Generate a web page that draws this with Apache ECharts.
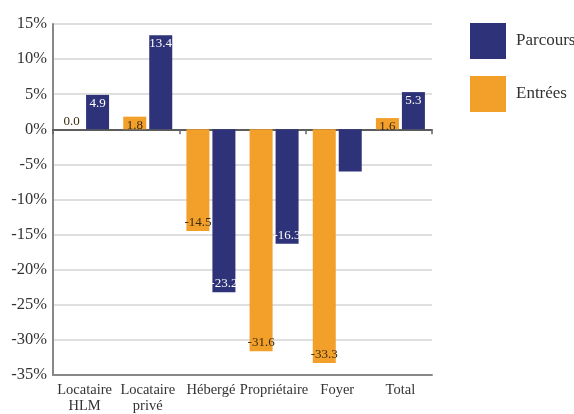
<!DOCTYPE html>
<html><head><meta charset="utf-8">
<script src="https://cdn.jsdelivr.net/npm/echarts@6/dist/echarts.min.js"></script>
<style>html,body{margin:0;padding:0;background:#fff}#c{width:574px;height:414px}</style>
</head><body><div id="c"></div>
<script>
const categories = ['Locataire\nHLM', 'Locataire\nprivé', 'Hébergé', 'Propriétaire', 'Foyer', 'Total'];
const entrees = [0.0, 1.8, -14.5, -31.6, -33.3, 1.6];
const parcours = [4.9, 13.4, -23.2, -16.3, -6.0, 5.3];
const hiddenParcoursLabels = [4]; // Foyer value label not shown in the reference
const yTicks = { min: -35, max: 15, interval: 5 };

const FONT = "'Liberation Serif', 'DejaVu Serif', serif";
const ORANGE = '#f2a02a', BLUE = '#2e3278';

function items(vals, color, hidden) {
  return vals.map((v, i) => ({
    value: v,
    label: {
      show: !(hidden || []).includes(i),
      position: v === 0 ? 'top' : (v > 0 ? 'insideTop' : 'insideBottom'),
      distance: v === 0 ? 1 : 2,
      color: color
    }
  }));
}

const chart = echarts.init(document.getElementById('c'), null, { renderer: 'canvas' });
chart.setOption({
  animation: false,
  textStyle: { fontFamily: FONT },
  grid: { left: 53, right: 142, top: 24, bottom: 38, containLabel: false },
  legend: {
    data: ['Parcours', 'Entrées'],
    orient: 'vertical', left: 470, top: 23, padding: 0,
    itemWidth: 36, itemHeight: 36, itemGap: 17, icon: 'rect',
    textStyle: { fontFamily: FONT, fontSize: 17, color: '#333', padding: [0, 0, 0, 5] }
  },
  xAxis: [{
    type: 'category', data: categories, position: 'bottom',
    axisLine: { onZero: false, lineStyle: { color: '#888', width: 2 } },
    axisTick: { show: false },
    axisLabel: { fontFamily: FONT, fontSize: 14.5, color: '#333', margin: 7, lineHeight: 16, interval: 0 },
    splitLine: { show: false }
  }, {
    type: 'category', data: categories, position: 'bottom',
    axisLine: { onZero: true, onZeroAxisIndex: 0, lineStyle: { color: '#333', width: 1.5 } },
    axisTick: { show: true, length: 5, lineStyle: { color: '#666', width: 1.5 } },
    axisLabel: { show: false },
    splitLine: { show: false }
  }],
  yAxis: {
    type: 'value', min: yTicks.min, max: yTicks.max, interval: yTicks.interval,
    axisLine: { show: true, lineStyle: { color: '#888', width: 2 } },
    axisTick: { show: false },
    axisLabel: { fontFamily: FONT, fontSize: 16.5, color: '#333', margin: 6, formatter: '{value}%' },
    splitLine: { lineStyle: { color: '#d4d4d4', width: 1.5 } }
  },
  series: [{
    name: 'Entrées', type: 'bar', xAxisIndex: 0, data: items(entrees, '#3a2a10'),
    itemStyle: { color: ORANGE }, barWidth: 23, barGap: '13%',
    label: { fontFamily: FONT, fontSize: 13, formatter: p => p.value.toFixed(1) }
  }, {
    name: 'Parcours', type: 'bar', xAxisIndex: 0, data: items(parcours, '#fff', hiddenParcoursLabels),
    itemStyle: { color: BLUE }, barWidth: 23,
    label: { fontFamily: FONT, fontSize: 13, formatter: p => p.value.toFixed(1) }
  }]
});
</script></body></html>
